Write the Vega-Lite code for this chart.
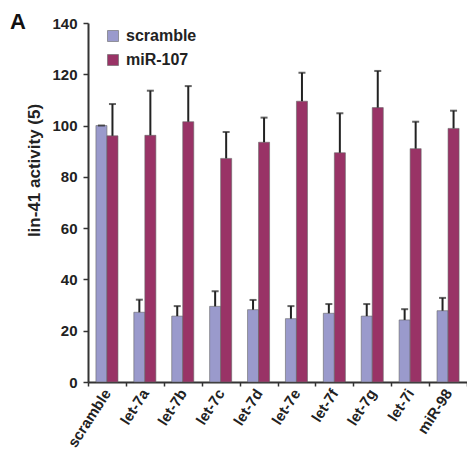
{
  "$schema": "https://vega.github.io/schema/vega-lite/v6.json",
  "width": 379,
  "height": 359,
  "autosize": {"type": "none"},
  "padding": {"left": 88, "top": 23, "right": 0, "bottom": 69},
  "background": "white",
  "title": {
    "text": "A",
    "anchor": "start",
    "frame": "group",
    "orient": "top",
    "offset": 0,
    "dx": -78,
    "dy": 35,
    "baseline": "alphabetic",
    "font": "Liberation Sans",
    "fontSize": 22,
    "fontWeight": "bold",
    "color": "#111"
  },
  "config": {
    "view": {"stroke": null},
    "font": "Liberation Sans"
  },
  "data": {
    "values": [
      {"group": "scramble", "treatment": "scramble", "value": 100, "upper": 100},
      {"group": "scramble", "treatment": "miR-107", "value": 96, "upper": 108.4},
      {"group": "let-7a", "treatment": "scramble", "value": 27.2, "upper": 32.1},
      {"group": "let-7a", "treatment": "miR-107", "value": 96.2, "upper": 113.6},
      {"group": "let-7b", "treatment": "scramble", "value": 25.7, "upper": 29.6},
      {"group": "let-7b", "treatment": "miR-107", "value": 101.5, "upper": 115.4},
      {"group": "let-7c", "treatment": "scramble", "value": 29.5, "upper": 35.4},
      {"group": "let-7c", "treatment": "miR-107", "value": 87.2, "upper": 97.5},
      {"group": "let-7d", "treatment": "scramble", "value": 28.2, "upper": 32},
      {"group": "let-7d", "treatment": "miR-107", "value": 93.5, "upper": 103.1},
      {"group": "let-7e", "treatment": "scramble", "value": 24.7, "upper": 29.6},
      {"group": "let-7e", "treatment": "miR-107", "value": 109.5, "upper": 120.6},
      {"group": "let-7f", "treatment": "scramble", "value": 26.8, "upper": 30.4},
      {"group": "let-7f", "treatment": "miR-107", "value": 89.4, "upper": 104.8},
      {"group": "let-7g", "treatment": "scramble", "value": 25.7, "upper": 30.4},
      {"group": "let-7g", "treatment": "miR-107", "value": 107, "upper": 121.3},
      {"group": "let-7i", "treatment": "scramble", "value": 24.2, "upper": 28.4},
      {"group": "let-7i", "treatment": "miR-107", "value": 91, "upper": 101.5},
      {"group": "miR-98", "treatment": "scramble", "value": 27.8, "upper": 32.8},
      {"group": "miR-98", "treatment": "miR-107", "value": 98.9, "upper": 105.8}
    ]
  },
  "encoding": {
    "x": {
      "field": "group",
      "type": "nominal",
      "sort": null,
      "scale": {"paddingInner": 0, "paddingOuter": 0},
      "axis": {
        "title": null,
        "tickBand": "extent",
        "labelAngle": -57,
        "labelAlign": "right",
        "labelBaseline": "middle",
        "labelFont": "Liberation Sans",
        "labelFontSize": 15,
        "labelFontWeight": "bold",
        "labelColor": "#222",
        "labelPadding": 4,
        "tickSize": 4,
        "tickColor": "#333",
        "tickWidth": 1.5,
        "domainColor": "#333",
        "domainWidth": 2,
        "grid": false
      }
    },
    "xOffset": {
      "field": "treatment",
      "type": "nominal",
      "sort": ["scramble", "miR-107"],
      "scale": {"paddingInner": 0, "paddingOuter": 0.72}
    },
    "y": {
      "field": "value",
      "type": "quantitative",
      "scale": {"domain": [0, 140], "nice": false},
      "axis": {
        "values": [0, 20, 40, 60, 80, 100, 120, 140],
        "title": "lin-41 activity (5)",
        "titleFont": "Liberation Sans",
        "titleFontSize": 17,
        "titleFontWeight": "bold",
        "titleColor": "#222",
        "titleAngle": -90,
        "titleX": -49,
        "titleY": 147,
        "titleAlign": "center",
        "titleBaseline": "alphabetic",
        "labelFont": "Liberation Sans",
        "labelFontSize": 15,
        "labelFontWeight": "bold",
        "labelColor": "#222",
        "labelPadding": 6,
        "tickSize": 5,
        "tickColor": "#333",
        "tickWidth": 1.5,
        "domainColor": "#333",
        "domainWidth": 2,
        "grid": false
      }
    }
  },
  "layer": [
    {
      "mark": {"type": "bar", "stroke": "#666", "strokeWidth": 0.6},
      "encoding": {
        "color": {
          "field": "treatment",
          "type": "nominal",
          "sort": ["scramble", "miR-107"],
          "scale": {"domain": ["scramble", "miR-107"], "range": ["#9a9acc", "#993366"]},
          "legend": {
            "title": null,
            "orient": "none",
            "legendX": 17,
            "legendY": 5,
            "padding": 0,
            "symbolType": "square",
            "symbolSize": 121,
            "symbolStrokeColor": "#666",
            "symbolStrokeWidth": 0.6,
            "symbolOpacity": 1,
            "labelFont": "Liberation Sans",
            "labelFontSize": 16,
            "labelFontWeight": "bold",
            "labelColor": "#222",
            "labelOffset": 5,
            "rowPadding": 8
          }
        }
      }
    },
    {
      "mark": {"type": "rule", "color": "#222", "strokeWidth": 2},
      "encoding": {
        "y2": {"field": "upper"}
      }
    },
    {
      "mark": {"type": "tick", "color": "#222", "size": 7, "thickness": 2, "orient": "horizontal"},
      "encoding": {
        "y": {"field": "upper", "type": "quantitative"}
      }
    }
  ]
}
